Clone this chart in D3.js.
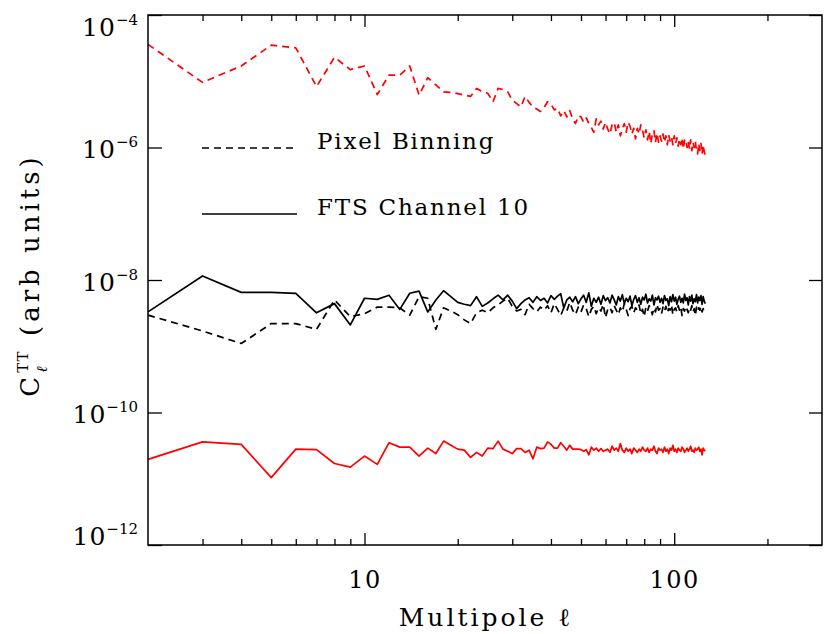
<!DOCTYPE html>
<html lang="en">
	<head>
		<meta charset="utf-8">
		<title>C_l TT</title>
		<script type="text/javascript" src="https://cdn.jsdelivr.net/npm/d3@7"></script>
		<style type="text/css">
			body { margin: 0; background: white; }
			text { font-family: "DejaVu Serif", serif; fill: black; }
		</style>
	</head>
	<body>
		<script type="text/javascript">
			//Multipoles
			var ell = [2, 3, 4, 5, 6, 7, 8, 9, 10, 11,
				12, 13, 14, 15, 16, 17, 18, 19, 20, 21,
				22, 23, 24, 25, 26, 27, 28, 29, 30, 31,
				32, 33, 34, 35, 36, 37, 38, 39, 40, 41,
				42, 43, 44, 45, 46, 47, 48, 49, 50, 51,
				52, 53, 54, 55, 56, 57, 58, 59, 60, 61,
				62, 63, 64, 65, 66, 67, 68, 69, 70, 71,
				72, 73, 74, 75, 76, 77, 78, 79, 80, 81,
				82, 83, 84, 85, 86, 87, 88, 89, 90, 91,
				92, 93, 94, 95, 96, 97, 98, 99, 100, 101,
				102, 103, 104, 105, 106, 107, 108, 109, 110, 111,
				112, 113, 114, 115, 116, 117, 118, 119, 120, 121,
				122, 123, 124, 125, 126];

			//Pixel binning, red dashed
			var pixRed = [3.6e-5, 9.6e-6, 1.7e-5, 3.5e-5, 3.2e-5, 8.3e-6, 2.3e-5, 1.5e-5, 1.7e-5, 6.3e-6,
				1.24e-5, 1.24e-5, 1.7e-5, 6.2e-6, 1.13e-5, 8.8e-6, 6.9e-6, 6.8e-6, 6.5e-6, 6.2e-6,
				5.9e-6, 7.8e-6, 7.0e-6, 6.6e-6, 4.9e-6, 7.8e-6, 7.5e-6, 6.9e-6, 5.2e-6, 4.6e-6,
				4.1e-6, 5.9e-6, 4.8e-6, 4.1e-6, 3.8e-6, 3.5e-6, 4.0e-6, 4.9e-6, 4.5e-6, 3.7e-6,
				3.9e-6, 3.0e-6, 3.6e-6, 2.9e-6, 3.6e-6, 2.7e-6, 2.3e-6, 3.0e-6, 2.9e-6, 2.4e-6,
				2.8e-6, 2.3e-6, 2.0e-6, 1.7e-6, 2.7e-6, 2.2e-6, 2.5e-6, 1.9e-6, 2.4e-6, 1.9e-6,
				1.6e-6, 2.2e-6, 2.4e-6, 1.7e-6, 2.2e-6, 1.5e-6, 1.9e-6, 2.3e-6, 1.7e-6, 2.4e-6,
				2.1e-6, 1.6e-6, 1.95e-6, 1.35e-6, 1.95e-6, 1.6e-6, 2.2e-6, 1.8e-6, 1.4e-6, 1.85e-6,
				1.3e-6, 1.75e-6, 1.15e-6, 1.6e-6, 1.8e-6, 1.2e-6, 1.65e-6, 1.2e-6, 1.5e-6, 1.25e-6,
				1.6e-6, 1.2e-6, 1.5e-6, 1.1e-6, 1.55e-6, 1.25e-6, 1.45e-6, 1.1e-6, 1.5e-6, 1.15e-6,
				1.4e-6, 1.05e-6, 1.35e-6, 1.1e-6, 1.4e-6, 9.5e-7, 1.3e-6, 1.35e-6, 1.0e-6, 1.25e-6,
				9.5e-7, 1.3e-6, 9.0e-7, 1.2e-6, 1.0e-6, 1.25e-6, 9.0e-7, 8.0e-7, 1.15e-6, 9.0e-7,
				1.15e-6, 8.0e-7, 1.1e-6, 8.5e-7, 7.8e-7];

			//FTS channel 10, black solid
			var ftsBlack = [3.3e-9, 1.15e-8, 6.5e-9, 6.5e-9, 6.3e-9, 3.2e-9, 4.4e-9, 2.1e-9, 5.3e-9, 5.1e-9,
				5.9e-9, 3.6e-9, 6.3e-9, 6.8e-9, 3.3e-9, 5.0e-9, 6.9e-9, 5.6e-9, 4.6e-9, 4.3e-9,
				4.1e-9, 5.6e-9, 4.0e-9, 4.5e-9, 5.2e-9, 5.9e-9, 5.0e-9, 5.9e-9, 4.8e-9, 3.7e-9,
				4.4e-9, 5.0e-9, 5.4e-9, 4.6e-9, 5.6e-9, 4.9e-9, 5.3e-9, 4.5e-9, 5.8e-9, 5.1e-9,
				5.7e-9, 6.2e-9, 3.8e-9, 5.0e-9, 5.5e-9, 4.7e-9, 5.6e-9, 4.4e-9, 5.2e-9, 5.9e-9,
				4.6e-9, 6.4e-9, 4.0e-9, 5.3e-9, 4.6e-9, 5.5e-9, 4.3e-9, 5.8e-9, 4.9e-9, 5.4e-9,
				4.5e-9, 5.9e-9, 5.0e-9, 4.2e-9, 5.6e-9, 4.8e-9, 6.0e-9, 4.4e-9, 5.3e-9, 4.7e-9,
				5.7e-9, 4.1e-9, 5.1e-9, 5.8e-9, 4.6e-9, 5.4e-9, 4.3e-9, 5.5e-9, 5.0e-9, 6.1e-9,
				4.5e-9, 5.2e-9, 4.8e-9, 5.9e-9, 4.2e-9, 5.4e-9, 5.0e-9, 5.7e-9, 4.6e-9, 5.3e-9,
				4.4e-9, 5.8e-9, 4.9e-9, 5.2e-9, 4.1e-9, 5.6e-9, 4.7e-9, 6.0e-9, 4.8e-9, 5.5e-9,
				4.3e-9, 5.1e-9, 5.7e-9, 4.6e-9, 5.3e-9, 4.5e-9, 6.1e-9, 4.9e-9, 5.4e-9, 4.2e-9,
				5.6e-9, 4.8e-9, 5.9e-9, 4.4e-9, 5.2e-9, 4.7e-9, 6.0e-9, 4.5e-9, 5.5e-9, 4.9e-9,
				5.8e-9, 4.3e-9, 5.6e-9, 4.8e-9, 4.4e-9];

			//Pixel binning, black dashed
			var pixBlack = [2.95e-9, 1.7e-9, 1.1e-9, 2.2e-9, 2.2e-9, 1.8e-9, 5.0e-9, 2.8e-9, 3.1e-9, 3.9e-9,
				3.9e-9, 3.8e-9, 2.95e-9, 5.6e-9, 5.3e-9, 1.8e-9, 3.8e-9, 3.4e-9, 3.0e-9, 2.5e-9,
				2.2e-9, 3.2e-9, 3.5e-9, 3.2e-9, 3.8e-9, 4.2e-9, 4.8e-9, 5.3e-9, 4.0e-9, 3.4e-9,
				3.6e-9, 3.0e-9, 4.3e-9, 3.7e-9, 3.3e-9, 3.9e-9, 3.5e-9, 4.1e-9, 3.2e-9, 4.4e-9,
				3.6e-9, 2.9e-9, 3.8e-9, 3.4e-9, 4.6e-9, 3.5e-9, 3.0e-9, 3.9e-9, 3.3e-9, 4.2e-9,
				3.7e-9, 2.8e-9, 3.6e-9, 4.0e-9, 3.1e-9, 3.8e-9, 3.4e-9, 4.3e-9, 2.7e-9, 3.6e-9,
				3.9e-9, 3.2e-9, 4.1e-9, 3.5e-9, 3.0e-9, 3.8e-9, 3.3e-9, 4.4e-9, 3.6e-9, 2.9e-9,
				3.7e-9, 4.0e-9, 3.2e-9, 3.8e-9, 3.5e-9, 4.2e-9, 3.1e-9, 3.6e-9, 2.8e-9, 3.9e-9,
				3.4e-9, 4.1e-9, 3.6e-9, 3.0e-9, 3.8e-9, 3.3e-9, 4.3e-9, 3.5e-9, 3.7e-9, 3.1e-9,
				3.9e-9, 3.4e-9, 4.0e-9, 3.2e-9, 3.7e-9, 3.5e-9, 4.2e-9, 3.0e-9, 3.6e-9, 3.8e-9,
				3.3e-9, 4.1e-9, 3.5e-9, 3.9e-9, 2.9e-9, 3.7e-9, 3.4e-9, 4.0e-9, 3.6e-9, 3.2e-9,
				3.8e-9, 3.5e-9, 4.1e-9, 3.3e-9, 3.7e-9, 2.9e-9, 3.9e-9, 3.4e-9, 3.8e-9, 3.5e-9,
				4.0e-9, 3.3e-9, 3.7e-9, 3.4e-9, 3.6e-9];

			//FTS channel 10, red solid
			var ftsRed = [1.96e-11, 3.6e-11, 3.3e-11, 1.04e-11, 2.8e-11, 2.75e-11, 1.7e-11, 1.5e-11, 2.2e-11, 1.65e-11,
				3.5e-11, 3.0e-11, 3.0e-11, 2.2e-11, 2.9e-11, 2.4e-11, 3.7e-11, 3.2e-11, 2.8e-11, 2.7e-11,
				2.1e-11, 2.5e-11, 2.2e-11, 2.9e-11, 2.85e-11, 3.7e-11, 2.8e-11, 2.6e-11, 2.4e-11, 2.85e-11,
				2.85e-11, 2.5e-11, 2.7e-11, 2.0e-11, 3.0e-11, 2.85e-11, 2.9e-11, 3.6e-11, 3.3e-11, 2.9e-11,
				2.9e-11, 3.5e-11, 3.1e-11, 2.7e-11, 3.2e-11, 2.8e-11, 2.8e-11, 2.8e-11, 2.75e-11, 2.6e-11,
				2.75e-11, 2.3e-11, 3.0e-11, 2.7e-11, 2.9e-11, 2.6e-11, 2.85e-11, 2.6e-11, 2.7e-11, 2.8e-11,
				2.5e-11, 3.1e-11, 2.7e-11, 2.9e-11, 2.6e-11, 3.4e-11, 2.7e-11, 2.5e-11, 2.9e-11, 2.6e-11,
				2.8e-11, 2.4e-11, 2.9e-11, 2.7e-11, 2.5e-11, 2.8e-11, 2.6e-11, 3.0e-11, 2.7e-11, 2.6e-11,
				2.9e-11, 2.5e-11, 2.8e-11, 2.7e-11, 3.1e-11, 2.6e-11, 2.4e-11, 2.9e-11, 2.7e-11, 2.8e-11,
				2.5e-11, 3.0e-11, 2.6e-11, 2.8e-11, 2.4e-11, 2.9e-11, 2.7e-11, 3.2e-11, 2.6e-11, 2.8e-11,
				2.5e-11, 2.9e-11, 2.7e-11, 2.6e-11, 3.0e-11, 2.8e-11, 2.5e-11, 2.7e-11, 2.9e-11, 2.6e-11,
				2.8e-11, 3.1e-11, 2.6e-11, 2.7e-11, 2.5e-11, 2.9e-11, 2.7e-11, 2.8e-11, 3.0e-11, 2.6e-11,
				2.8e-11, 2.3e-11, 2.9e-11, 2.7e-11, 2.6e-11];

			//Ticks
			var yTicks = [1e-4, 1e-6, 1e-8, 1e-10, 1e-12];
			var yExps = ["\u22124", "\u22126", "\u22128", "\u221210", "\u221212"];
			var xMajor = [10, 100];
			var xMinor = [3, 4, 5, 6, 7, 8, 9, 20, 30, 40, 50, 60, 70, 80, 90, 200];

			var w = 830;
			var h = 634;
			var pLeft = 148, pRight = 822, pTop = 15, pBottom = 545;

			var svg = d3.select("body")
						.append("svg")
						.attr("width", w)
						.attr("height", h);

			//Scales
			var xScale = d3.scaleLog().domain([2, 300]).range([pLeft, pRight]);
			var yScale = d3.scaleLog().domain([1e-12, 1e-4]).range([pBottom, pTop]);

			//Lines
			function series(vals) {
				return ell.map(function(l, i) { return [l, vals[i]]; });
			}
			var line = d3.line()
						 .x(function(d) { return xScale(d[0]); })
						 .y(function(d) { return yScale(d[1]); });

			var lines = [
				{ data: pixRed, color: "#ff0000", dash: "7,5" },
				{ data: pixBlack, color: "#000000", dash: "7,5" },
				{ data: ftsBlack, color: "#000000", dash: null },
				{ data: ftsRed, color: "#ff0000", dash: null }
			];
			lines.forEach(function(s) {
				svg.append("path")
				   .attr("d", line(series(s.data)))
				   .attr("fill", "none")
				   .attr("stroke", s.color)
				   .attr("stroke-width", 1.7)
				   .attr("stroke-linejoin", "round")
				   .attr("stroke-dasharray", s.dash);
			});

			//Axes
			function tidy(g) {
				g.select(".domain").remove();
				g.selectAll("line").attr("stroke", "black").attr("stroke-width", 1.3);
			}
			svg.append("g")
			   .attr("transform", "translate(0," + pBottom + ")")
			   .call(d3.axisBottom(xScale).tickValues(xMinor).tickSize(-6).tickFormat(""))
			   .call(tidy);
			var xAx = svg.append("g")
			   .attr("transform", "translate(0," + pBottom + ")")
			   .call(d3.axisBottom(xScale).tickValues(xMajor).tickSize(-12).tickPadding(0).tickFormat(d3.format("d")))
			   .call(tidy);
			xAx.selectAll("text")
			   .attr("y", 43)
			   .attr("dy", null)
			   .attr("font-size", 24)
			   .attr("letter-spacing", 1.5)
			   .attr("font-family", "DejaVu Serif");
			svg.append("g")
			   .attr("transform", "translate(0," + pTop + ")")
			   .call(d3.axisTop(xScale).tickValues(xMinor).tickSize(-6).tickFormat(""))
			   .call(tidy);
			svg.append("g")
			   .attr("transform", "translate(0," + pTop + ")")
			   .call(d3.axisTop(xScale).tickValues(xMajor).tickSize(-12).tickFormat(""))
			   .call(tidy);
			svg.append("g")
			   .attr("transform", "translate(" + pRight + ",0)")
			   .call(d3.axisRight(yScale).tickValues(yTicks).tickSize(-13).tickFormat(""))
			   .call(tidy);
			var yAx = svg.append("g")
			   .attr("transform", "translate(" + pLeft + ",0)")
			   .call(d3.axisLeft(yScale).tickValues(yTicks).tickSize(-14).tickPadding(10).tickFormat(""))
			   .call(tidy);
			yAx.selectAll(".tick text")
			   .attr("font-family", "DejaVu Serif")
			   .attr("dy", function(d, i) { return i === 0 ? 20 : (i === yTicks.length - 1 ? -1 : 10); })
			   .each(function(d, i) {
				   var t = d3.select(this);
				   t.append("tspan").attr("font-size", 25).attr("letter-spacing", 1).text("10");
				   t.append("tspan").attr("font-size", 15).attr("dy", -11).text(yExps[i]);
			   });

			//Frame
			svg.append("rect")
			   .attr("x", pLeft).attr("y", pTop)
			   .attr("width", pRight - pLeft).attr("height", pBottom - pTop)
			   .attr("fill", "none")
			   .attr("stroke", "black")
			   .attr("stroke-width", 1.5);

			//Legend
			var legend = [
				{ label: "Pixel Binning", dash: "7,5", y: 148 },
				{ label: "FTS Channel 10", dash: null, y: 214 }
			];
			legend.forEach(function(d) {
				svg.append("line")
				   .attr("x1", 202).attr("x2", 297)
				   .attr("y1", d.y).attr("y2", d.y)
				   .attr("stroke", "black")
				   .attr("stroke-width", 1.7)
				   .attr("stroke-dasharray", d.dash);
				svg.append("text")
				   .attr("x", 317).attr("y", d.y + 1)
				   .attr("font-size", 23)
				   .attr("letter-spacing", 1.8)
				   .text(d.label);
			});

			//Axis titles
			svg.append("text")
			   .attr("x", 486).attr("y", 626)
			   .attr("text-anchor", "middle")
			   .attr("font-size", 25)
			   .attr("letter-spacing", 3)
			   .text("Multipole \u2113");

			var yl = svg.append("text")
			   .attr("transform", "translate(39,275) rotate(-90)")
			   .attr("text-anchor", "middle")
			   .attr("font-size", 26)
			   .attr("letter-spacing", 4);
			yl.append("tspan").text("C");
			yl.append("tspan").attr("font-size", 15).attr("letter-spacing", 1).attr("dy", -11).text("TT");
			yl.append("tspan").attr("font-size", 15).attr("dx", -22).attr("dy", 19).attr("font-style", "italic").text("\u2113");
			yl.append("tspan").attr("dx", 14).attr("dy", -8).text(" (arb units)");
		</script>
	</body>
</html>
